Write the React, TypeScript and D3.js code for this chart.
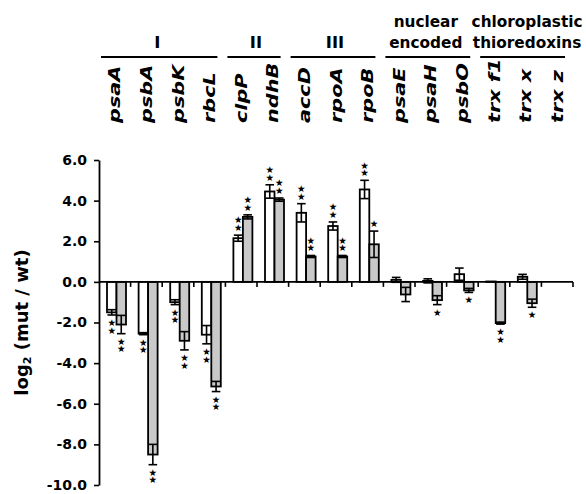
import React, { useEffect, useRef } from 'react';
import * as d3 from 'd3';

// gene categories along the x axis
const genes = ['psaA', 'psbA', 'psbK', 'rbcL', 'clpP', 'ndhB', 'accD', 'rpoA', 'rpoB', 'psaE', 'psaH', 'psbO', 'trx f1', 'trx x', 'trx z'];

// white bars
const whiteMean = [-1.5, -2.55, -1.0, -2.6, 2.15, 4.45, 3.4, 2.75, 4.55, 0.1, 0.05, 0.38, 0.02, 0.25, null];
const whiteErr = [0.13, 0.05, 0.12, 0.45, 0.15, 0.33, 0.45, 0.2, 0.45, 0.12, 0.1, 0.3, 0, 0.12, null];
const whiteStars = [2, 2, 2, 2, 2, 2, 2, 2, 2, 0, 0, 0, 0, 0, 0];

// gray bars
const grayMean = [-2.1, -8.5, -2.9, -5.15, 3.2, 4.05, 1.25, 1.25, 1.85, -0.62, -0.9, -0.42, -2.03, -1.05, null];
const grayErr = [0.45, 0.5, 0.45, 0.25, 0.1, 0.08, 0.05, 0.05, 0.65, 0.35, 0.22, 0.1, 0.05, 0.2, null];
const grayStars = [2, 2, 2, 2, 2, 2, 2, 2, 1, 0, 1, 1, 2, 1, 0];

const yTicks = [6, 4, 2, 0, -2, -4, -6, -8, -10];

// header groups: label lines, first and last gene
const groupLabels = [['I'], ['II'], ['III'], ['nuclear', 'encoded'], ['chloroplastic', 'thioredoxins']];
const groupFirst = ['psaA', 'clpP', 'accD', 'psaE', 'trx f1'];
const groupLast = ['rbcL', 'ndhB', 'rpoB', 'psbO', 'trx z'];

const FONT = 'DejaVu Sans, sans-serif';

const Chart = () => {
  const svgRef = useRef<SVGSVGElement>(null);

  useEffect(() => {
    const svg = d3.select(svgRef.current);
    const width = 586;
    const height = 494;
    svg.attr('width', width).attr('height', height);

    const left = 99;
    const right = 573;
    const top = 160;
    const bottom = 485;

    const x = d3.scaleBand().domain(genes).range([left, right]).padding(0);
    const y = d3.scaleLinear().domain([-10, 6]).range([bottom, top]);

    const barW = 9.5;
    const barOff = 8;

    // bars + error bars + stars
    const drawSeries = (means, errs, stars, fill, shift) => {
      genes.forEach((g, i) => {
        const m = means[i];
        if (m === null) return;
        const e = errs[i];
        const bx = x(g) + barOff + shift;
        const cx = bx + barW / 2;
        svg
          .append('rect')
          .attr('x', bx)
          .attr('y', Math.min(y(m), y(0)))
          .attr('width', barW)
          .attr('height', Math.max(Math.abs(y(m) - y(0)), 0.5))
          .attr('fill', fill)
          .attr('stroke', '#000')
          .attr('stroke-width', 1.8);

        if (e > 0) {
          const g2 = svg.append('g').attr('stroke', '#000').attr('stroke-width', 1.6);
          g2.append('line').attr('x1', cx).attr('x2', cx).attr('y1', y(m - e)).attr('y2', y(m + e));
          [m - e, m + e].forEach((v) => {
            g2.append('line').attr('x1', cx - 4.3).attr('x2', cx + 4.3).attr('y1', y(v)).attr('y2', y(v));
          });
        }

        const dir = m >= 0 ? -1 : 1;
        const anchor = y(m >= 0 ? m + e : m - e);
        for (let k = 0; k < stars[i]; k++) {
          svg
            .append('text')
            .attr('x', cx)
            .attr('y', anchor + dir * (7.5 + k * 7.8))
            .attr('text-anchor', 'middle')
            .attr('dominant-baseline', 'central')
            .attr('font-family', FONT)
            .attr('font-size', 9.5)
            .text('\u2605');
        }
      });
    };

    drawSeries(whiteMean, whiteErr, whiteStars, '#ffffff', 0);
    drawSeries(grayMean, grayErr, grayStars, '#c9c9c9', barW);

    // zero line with ticks at category boundaries
    svg
      .append('line')
      .attr('x1', left)
      .attr('x2', right)
      .attr('y1', y(0))
      .attr('y2', y(0))
      .attr('stroke', '#000')
      .attr('stroke-width', 1.8);
    genes.forEach((g) => {
      const tx = x(g) + x.bandwidth();
      svg
        .append('line')
        .attr('x1', tx)
        .attr('x2', tx)
        .attr('y1', y(0))
        .attr('y2', y(0) + 5)
        .attr('stroke', '#000')
        .attr('stroke-width', 1.6);
    });

    // y axis
    const yAxis = d3
      .axisLeft(y)
      .tickValues(yTicks)
      .tickFormat((d) => d.toFixed(1))
      .tickSizeInner(5)
      .tickSizeOuter(0)
      .tickPadding(7);
    const ya = svg.append('g').attr('transform', `translate(${left},0)`).call(yAxis);
    ya.select('.domain').attr('stroke-width', 1.8);
    ya.selectAll('.tick line').attr('stroke-width', 1.6);
    ya.selectAll('.tick text')
      .attr('font-family', FONT)
      .attr('font-weight', 'bold')
      .attr('font-size', 14)
      .attr('fill', '#000');

    // y axis title
    const yl = svg
      .append('text')
      .attr('transform', `translate(28,${(top + bottom) / 2}) rotate(-90)`)
      .attr('text-anchor', 'middle')
      .attr('font-family', FONT)
      .attr('font-weight', 'bold')
      .attr('font-size', 18);
    yl.append('tspan').text('log');
    yl.append('tspan').attr('font-size', 11).attr('dy', 3).text('2');
    yl.append('tspan').attr('dy', -3).text(' (mut / wt)');

    // gene labels
    genes.forEach((g) => {
      const cx = x(g) + x.bandwidth() / 2 + 5.5;
      svg
        .append('text')
        .attr('transform', `translate(${cx},123) rotate(-90) scale(1.3,1)`)
        .attr('font-family', FONT)
        .attr('font-weight', 'bold')
        .attr('font-style', 'italic')
        .attr('font-size', 16)
        .text(g);
    });

    // group headers
    const labelShift = [-2, 2, 2, -2, 4.5];
    groupLabels.forEach((lines, i) => {
      const x1 = x(groupFirst[i]) + 2;
      const x2 = x(groupLast[i]) + x.bandwidth() - 8;
      svg
        .append('line')
        .attr('x1', x1)
        .attr('x2', x2)
        .attr('y1', 57)
        .attr('y2', 57)
        .attr('stroke', '#000')
        .attr('stroke-width', 1.8);
      lines.forEach((t, j) => {
        svg
          .append('text')
          .attr('x', (x1 + x2) / 2 + labelShift[i])
          .attr('y', 48 - (lines.length - 1 - j) * 21.5)
          .attr('text-anchor', 'middle')
          .attr('font-family', FONT)
          .attr('font-weight', 'bold')
          .attr('font-size', lines.length > 1 ? 15.3 : 16.5)
          .text(t);
      });
    });

    return () => {
      svg.selectAll('*').remove();
    };
  }, []);

  return <svg ref={svgRef} style={{ position: 'absolute', left: 0, top: 0, display: 'block' }}></svg>;
};

export default function App() {
  return <Chart />;
}
